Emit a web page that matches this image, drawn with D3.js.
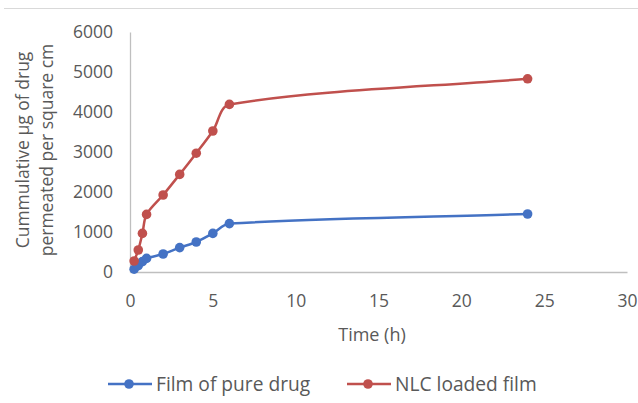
<!DOCTYPE html>
<html><head><meta charset="utf-8">
<script src="https://cdn.jsdelivr.net/npm/d3@7"></script>
<style>
html,body{margin:0;padding:0;background:#fff;}
svg{display:block;font-family:"Open Sans","Liberation Sans",sans-serif;}
</style></head>
<body>
<svg id="chart" width="638" height="403"></svg>
<script>
const times = [0.25, 0.5, 0.75, 1, 2, 3, 4, 5, 6, 24];
const pureDrug = [70, 160, 260, 340, 450, 610, 750, 965, 1210, 1450];
const nlcFilm = [275, 550, 965, 1440, 1925, 2440, 2970, 3525, 4190, 4830];
const seriesNames = ["Film of pure drug", "NLC loaded film"];
const seriesColors = ["#4472C4", "#C0504D"];
const xTicks = [0, 5, 10, 15, 20, 25, 30];
const yTicks = [0, 1000, 2000, 3000, 4000, 5000, 6000];

// Excel-like smoothing: Bezier with tangent direction from neighbours,
// control length proportional to each segment's length.
function curveSmoothChart(context) {
  let pts = [];
  return {
    areaStart() {}, areaEnd() {},
    lineStart() { pts = []; },
    point(x, y) { pts.push([+x, +y]); },
    lineEnd() {
      const n = pts.length;
      if (!n) return;
      context.moveTo(pts[0][0], pts[0][1]);
      if (n < 3) { for (let i = 1; i < n; i++) context.lineTo(pts[i][0], pts[i][1]); return; }
      const dirs = pts.map((p, i) => {
        const a = pts[Math.max(0, i - 1)], b = pts[Math.min(n - 1, i + 1)];
        const dx = b[0] - a[0], dy = b[1] - a[1], l = Math.hypot(dx, dy) || 1;
        return [dx / l, dy / l];
      });
      const s = 0.3;
      for (let i = 0; i < n - 1; i++) {
        const p = pts[i], q = pts[i + 1];
        const L = Math.hypot(q[0] - p[0], q[1] - p[1]);
        context.bezierCurveTo(
          p[0] + dirs[i][0] * s * L, p[1] + dirs[i][1] * s * L,
          q[0] - dirs[i + 1][0] * s * L, q[1] - dirs[i + 1][1] * s * L,
          q[0], q[1]);
      }
    }
  };
}

const svg = d3.select("#chart");
const x = d3.scaleLinear().domain([0, 30]).range([130, 627]);
const y = d3.scaleLinear().domain([0, 6000]).range([272, 32]);
const textColor = "#595959";
const FONT = "'Open Sans','Liberation Sans',sans-serif";

// border line at top
svg.append("line").attr("x1", 4).attr("x2", 638).attr("y1", 8.5).attr("y2", 8.5)
  .attr("stroke", "#d9d9d9").attr("stroke-width", 1);

// axes
const xAxis = svg.append("g").attr("transform", "translate(0,272)")
  .call(d3.axisBottom(x).tickValues(xTicks).tickSize(0).tickPadding(23).tickFormat(d3.format("d")));
const yAxis = svg.append("g").attr("transform", "translate(130,0)")
  .call(d3.axisLeft(y).tickValues(yTicks).tickSize(0).tickPadding(17).tickFormat(d3.format("d")));
[xAxis, yAxis].forEach(a => {
  a.select(".domain").attr("stroke", "#bfbfbf").attr("stroke-width", 1.3);
  a.selectAll("text").attr("fill", textColor).style("font-size", "17.5px")
    .style("font-family", FONT);
});

// axis titles
svg.append("text").attr("x", 372).attr("y", 341).attr("text-anchor", "middle")
  .attr("fill", textColor).style("font-size", "18px").text("Time (h)");
const yt = svg.append("text").attr("transform", "translate(0,150) rotate(-90)")
  .attr("text-anchor", "middle").attr("fill", textColor).style("font-size", "17.5px");
yt.append("tspan").attr("x", 0).attr("y", 29).text("Cummulative µg of drug");
yt.append("tspan").attr("x", 0).attr("y", 53).text("permeated per square cm");

// series
const line = d3.line().x(d => x(d[0])).y(d => y(d[1])).curve(curveSmoothChart);
[pureDrug, nlcFilm].forEach((vals, i) => {
  const pts = times.map((t, j) => [t, vals[j]]);
  svg.append("path").datum(pts).attr("d", line).attr("fill", "none")
    .attr("stroke", seriesColors[i]).attr("stroke-width", 2.5);
  svg.selectAll(null).data(pts).enter().append("circle")
    .attr("cx", d => x(d[0])).attr("cy", d => y(d[1])).attr("r", 4.8)
    .attr("fill", seriesColors[i]);
});

// legend
const legX = [108, 347];
seriesNames.forEach((n, i) => {
  const g = svg.append("g").attr("transform", `translate(${legX[i]},384)`);
  g.append("line").attr("x1", 0).attr("x2", 44).attr("y1", 0).attr("y2", 0)
    .attr("stroke", seriesColors[i]).attr("stroke-width", 2.5);
  g.append("circle").attr("cx", 21).attr("cy", 0).attr("r", 4.8).attr("fill", seriesColors[i]);
  g.append("text").attr("x", 48).attr("y", 0).attr("dy", "0.35em")
    .attr("fill", textColor).style("font-size", "19.2px").text(n);
});
</script>
</body></html>
